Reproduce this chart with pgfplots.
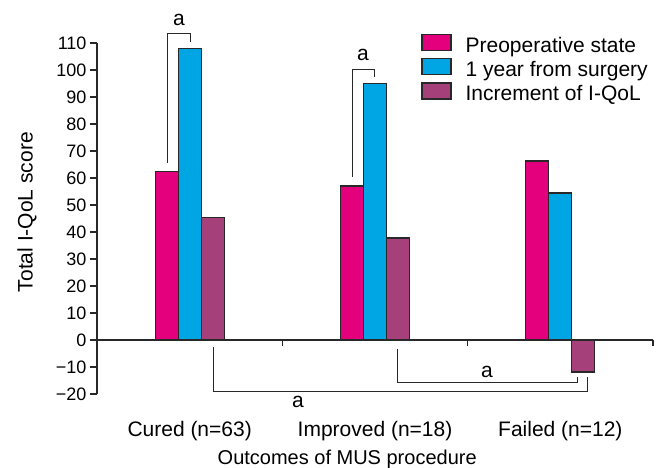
\documentclass[border=0pt]{standalone}
\usepackage{pgfplots}
\pgfplotsset{compat=1.18}
\usepackage{fontspec}
\setmainfont{Liberation Sans}
\definecolor{cpink}{RGB}{228,0,124}
\definecolor{cblue}{RGB}{0,166,228}
\definecolor{cpurp}{RGB}{166,64,122}
\definecolor{cline}{RGB}{40,40,40}
\begin{document}
\begin{tikzpicture}
\begin{axis}[
  at={(97pt,74pt)}, anchor=south west,
  scale only axis, width=556pt, height=351pt,
  xmin=0, xmax=3, ymin=-20, ymax=110,
  clip=false,
  axis lines*=left,
  x axis line style={draw=none},
  y axis line style={line width=1.2pt, cline},
  xtick={0.5,1.5,2.5},
  xticklabels={Cured (n=63), Improved (n=18), Failed (n=12)},
  x tick style={draw=none},
  xticklabel style={font=\fontsize{21}{24}\selectfont, yshift=-17pt},
  ytick={-20,-10,...,110},
  yticklabels={−20,−10,0,10,20,30,40,50,60,70,80,90,100,110},
  y tick style={line width=1.2pt, cline},
  yticklabel style={font=\fontsize{18}{20}\selectfont},
  tick align=outside,
  major tick length=7pt,
  xlabel={Outcomes of MUS procedure},
  xlabel style={font=\fontsize{20}{24}\selectfont, at={(axis description cs:0.45,-0.2)}, anchor=base},
  ylabel={Total I-QoL score},
  ylabel style={font=\fontsize{21}{24}\selectfont, at={(axis description cs:-0.126,0.518)}, anchor=center},
  ybar, bar width=23pt,
  every axis plot post/.append style={legend image code/.code={\draw[##1, line width=1.3pt] (0pt,-5pt) rectangle (29pt,11pt); \path[draw=none, fill=none] (0pt,18pt) -- (29pt,18pt);}},
  legend style={at={(axis description cs:0.583,1.045)}, anchor=north west, draw=none, fill=none,
    font=\fontsize{21}{24}\selectfont, inner sep=0pt, nodes={inner sep=0pt}, column sep=14pt, row sep=-2pt},
  legend cell align=left,
]
\addplot[fill=cpink, draw=cline, line width=1.3pt, bar shift=-23pt] coordinates {(0.5,62.5) (1.5,57) (2.5,66.3)};
\addplot[fill=cblue, draw=cline, line width=1.3pt, bar shift=0pt] coordinates {(0.5,108) (1.5,95) (2.5,54.4)};
\addplot[fill=cpurp, draw=cline, line width=1.3pt, bar shift=23pt] coordinates {(0.5,45.3) (1.5,37.8) (2.5,-11.9)};
\legend{Preoperative state, 1 year from surgery, Increment of I-QoL}
% x axis at zero
\draw[line width=1.2pt, cline] (axis cs:0,0) -- (axis cs:3,0);
\draw[line width=1.2pt, cline] (axis cs:1,0) -- (axis cs:1,-2.2);
\draw[line width=1.2pt, cline] (axis cs:2,0) -- (axis cs:2,-2.2);
\draw[line width=1.2pt, cline] (axis cs:3,0) -- (axis cs:3,-2.2);
% significance brackets
\draw[line width=1pt, cline] (axis cs:0.378,65.6) -- (axis cs:0.378,113.7) -- (axis cs:0.502,113.7) -- (axis cs:0.502,110.4);
\node[font=\fontsize{21}{24}\selectfont] at (axis cs:0.442,118.5) {a};
\draw[line width=1pt, cline] (axis cs:1.376,60.4) -- (axis cs:1.376,100) -- (axis cs:1.495,100) -- (axis cs:1.495,97.4);
\node[font=\fontsize{21}{24}\selectfont] at (axis cs:1.435,105.6) {a};
\draw[line width=1pt, cline] (axis cs:0.626,-2.6) -- (axis cs:0.626,-18.9) -- (axis cs:2.644,-18.9) -- (axis cs:2.644,-13.7);
\node[font=\fontsize{21}{24}\selectfont] at (axis cs:1.085,-23) {a};
\draw[line width=1pt, cline] (axis cs:1.619,-3.3) -- (axis cs:1.619,-15.9) -- (axis cs:2.595,-15.9) -- (axis cs:2.595,-13.7);
\node[font=\fontsize{21}{24}\selectfont] at (axis cs:2.104,-11.9) {a};
\end{axis}
\pgfresetboundingbox
\useasboundingbox (0,0) rectangle (665pt,468pt);
\end{tikzpicture}
\end{document}
